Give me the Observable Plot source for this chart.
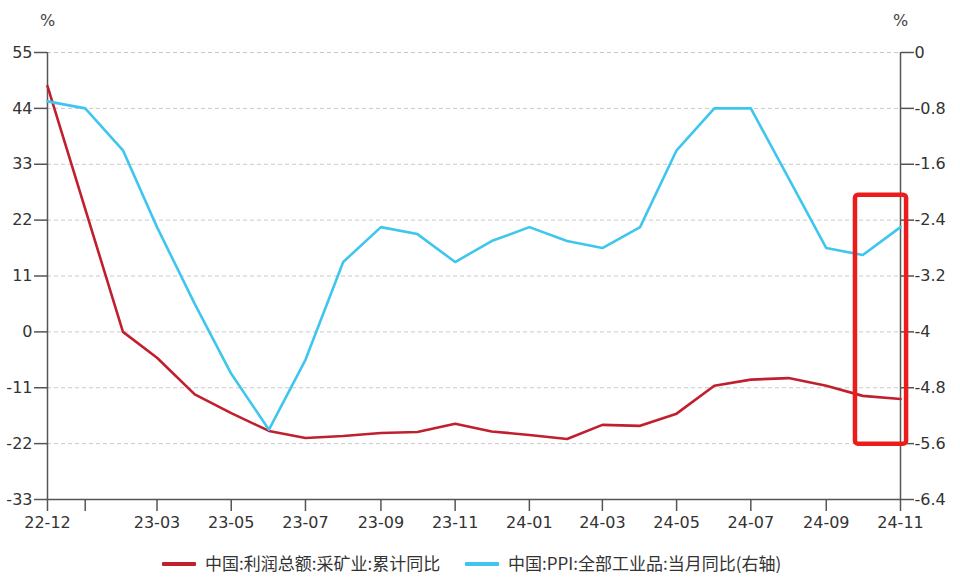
<!DOCTYPE html>
<html>
<head>
<meta charset="utf-8">
<script src="https://cdn.jsdelivr.net/npm/d3@7"></script>
<script src="https://cdn.jsdelivr.net/npm/@observablehq/plot@0.6"></script>
<style>
  html, body { margin: 0; padding: 0; background: #fff; }
  #wrap { width: 960px; height: 577px; position: relative; background: #fff; }
  #legend { position: relative; width: 960px; height: 32px; font-family: "Noto Sans CJK SC", sans-serif; font-size: 17px; color: #333; }
  .item { position: absolute; top: 7px; height: 22px; line-height: 22px; white-space: nowrap; }
  .sw { display: inline-block; width: 34px; height: 4px; vertical-align: middle; margin-right: 9px; border-radius: 1px; position: relative; top: -1px; }
</style>
</head>
<body>
<div id="wrap"></div>
<script>
// ---- data ----
const months = ["22-12","23-01","23-02","23-03","23-04","23-05","23-06","23-07","23-08","23-09","23-10","23-11","23-12",
                "24-01","24-02","24-03","24-04","24-05","24-06","24-07","24-08","24-09","24-10","24-11"];
// 中国:利润总额:采矿业:累计同比 (left axis, %), no January release
const profitValues = [48.4, null, 0.0, -5.1, -12.3, -16.0, -19.5, -20.9, -20.5, -19.9, -19.7, -18.1, -19.6,
                      -20.3, -21.1, -18.3, -18.5, -16.1, -10.6, -9.4, -9.1, -10.6, -12.6, -13.2];
// 中国:PPI:全部工业品:当月同比 (right axis, %)
const ppiValues = [-0.7, -0.8, -1.4, -2.5, -3.6, -4.6, -5.4, -4.4, -3.0, -2.5, -2.6, -3.0, -2.7,
                   -2.5, -2.7, -2.8, -2.5, -1.4, -0.8, -0.8, -1.8, -2.8, -2.9, -2.5];
const seriesNames = ["中国:利润总额:采矿业:累计同比", "中国:PPI:全部工业品:当月同比(右轴)"];
const seriesColors = ["#c0202e", "#3fc6ef"];
const leftTicks = [-33, -22, -11, 0, 11, 22, 33, 44, 55];
const rightTicks = [-6.4, -5.6, -4.8, -4, -3.2, -2.4, -1.6, -0.8, 0];
const xTickLabels = ["22-12","23-01","23-03","23-05","23-07","23-09","23-11","24-01","24-03","24-05","24-07","24-09","24-11"];
const hiddenTickLabels = ["23-01"];
const axisUnit = "%";
// highlight box (dates, left-axis values)
const highlight = [{x1: "2024-09-25", x2: "2024-11-06", y1: 26.9, y2: -22.1}];

// ---- build ----
const parseM = d3.utcParse("%y-%m");
const fmtM = d3.utcFormat("%y-%m");
const dates = months.map(parseM);
const profit = months.map((m, i) => ({date: dates[i], value: profitValues[i]})).filter(d => d.value != null);
const ppi = months.map((m, i) => ({date: dates[i], value: ppiValues[i]}));

// right axis [-6.4, 0] maps linearly onto left axis [-33, 55]
const L0 = leftTicks[0], L1 = leftTicks[leftTicks.length - 1];
const R0 = rightTicks[0], R1 = rightTicks[rightTicks.length - 1];
const r2l = v => L0 + (v - R0) * (L1 - L0) / (R1 - R0);
const l2r = v => R0 + (v - L0) * (R1 - R0) / (L1 - L0);
const fmtNum = v => String(+(+v).toFixed(1));

const x0 = dates[0], xEnd = dates[dates.length - 1];
const xTicks = xTickLabels.map(parseM);
const hl = highlight.map(d => ({x1: new Date(d.x1), x2: new Date(d.x2), y1: d.y1, y2: d.y2}));

const axisColor = "#555";

const chart = Plot.plot({
  width: 960,
  height: 545,
  marginLeft: 47,
  marginRight: 60,
  marginTop: 52,
  marginBottom: 46,
  x: {type: "utc", domain: [x0, xEnd]},
  y: {domain: [L0, L1]},
  style: {fontFamily: "DejaVu Sans, sans-serif", fontSize: "16px", color: "#333", background: "#fff", overflow: "visible"},
  marks: [
    Plot.gridY(leftTicks.slice(1), {stroke: "#c8c8c8", strokeOpacity: 1, strokeDasharray: "4,3", strokeWidth: 1}),
    Plot.ruleY([L0], {stroke: axisColor, strokeWidth: 1.5}),
    Plot.ruleX([x0, xEnd], {stroke: axisColor, strokeWidth: 1.5}),
    Plot.axisY(leftTicks, {anchor: "left", tickSize: 13, tickPadding: 2, stroke: axisColor, strokeWidth: 1.5, fill: "#333",
      tickFormat: d => fmtNum(d), label: null}),
    Plot.axisY(rightTicks.map(r2l), {anchor: "right", tickSize: 13, tickPadding: 1, stroke: axisColor, strokeWidth: 1.5, fill: "#333",
      tickFormat: d => fmtNum(l2r(d)), label: null}),
    Plot.axisX(xTicks, {tickSize: 12, tickPadding: 5, stroke: axisColor, strokeWidth: 1.5, fill: "#333",
      tickFormat: d => hiddenTickLabels.includes(fmtM(d)) ? "" : fmtM(d), label: null}),
    Plot.text([axisUnit], {x: x0, y: L1, dy: -32, text: d => d, fill: "#444", fontSize: 16}),
    Plot.text([axisUnit], {x: xEnd, y: L1, dy: -32, text: d => d, fill: "#444", fontSize: 16}),
    Plot.line(profit, {x: "date", y: "value", stroke: seriesColors[0], strokeWidth: 2.6}),
    Plot.line(ppi, {x: "date", y: d => r2l(d.value), stroke: seriesColors[1], strokeWidth: 2.6}),
    Plot.rect(hl, {x1: "x1", x2: "x2", y1: "y1", y2: "y2", fill: "none", stroke: "#ec1c1c", strokeWidth: 4.5, rx: 3})
  ]
});

const wrap = document.getElementById("wrap");
wrap.appendChild(chart);

const legend = document.createElement("div");
legend.id = "legend";
const lefts = [162, 465];
seriesNames.forEach((name, i) => {
  const it = document.createElement("div");
  it.className = "item";
  it.style.left = lefts[i] + "px";
  const sw = document.createElement("span");
  sw.className = "sw";
  sw.style.background = seriesColors[i];
  it.appendChild(sw);
  it.appendChild(document.createTextNode(name));
  legend.appendChild(it);
});
wrap.appendChild(legend);
</script>
</body>
</html>
